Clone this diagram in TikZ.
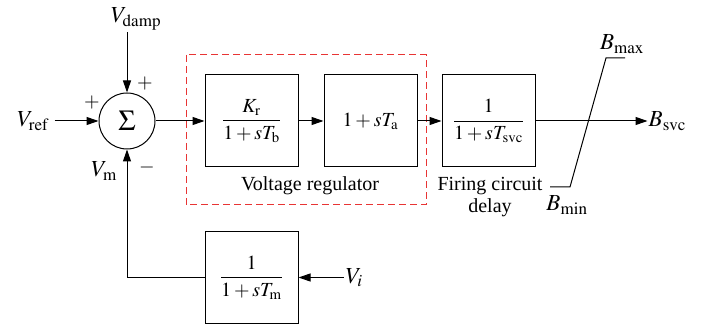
\documentclass[tikz,border=0pt]{standalone}
\usepackage{amsmath}
\usepackage{mathptmx}
\usepackage{fontspec}
\setmainfont{Liberation Serif}
\usetikzlibrary{arrows.meta,positioning}
\definecolor{dRed}{RGB}{232,52,52}

\begin{document}
\begin{tikzpicture}[x=1pt,y=-1pt,font=\fontsize{20}{22}\selectfont,
  b/.style={draw,line width=1pt,minimum width=93pt,minimum height=92pt,inner sep=0pt,align=center},
  s/.style={draw,circle,line width=1pt,minimum size=56pt,inner sep=0pt,font=\fontsize{29}{31}\selectfont},
  l/.style={font=\fontsize{23}{25}\selectfont,inner sep=2pt},
  a/.style={-{Triangle[length=12pt,width=8pt]},line width=1pt}]
  \useasboundingbox (0,0) rectangle (709,328);
  % summing point and inputs
  \node[s] (sum) at (127,121) {$\Sigma$};
  \node[l,left=44pt of sum,inner xsep=6pt] (vref) {$V_{\mathrm{ref}}$};
  \node[l,above=60pt of sum,xshift=9pt] (vdamp) {$V_{\mathrm{damp}}$};
  \node (p1) at (92,103) {$+$};
  \node (p2) at (145,84) {$+$};
  \node (m1) at (147,168) {$-$};
  \node[l] (vm) at (104,171) {$V_{\mathrm{m}}$};
  % forward path
  \node[b,right=49pt of sum] (kr) {$\dfrac{K_{\mathrm{r}}}{1+sT_{\mathrm{b}}}$};
  \node[b,right=25pt of kr] (ta) {$1+sT_{\mathrm{a}}$};
  \node[b,right=24pt of ta] (tsvc) {$\dfrac{1}{1+sT_{\mathrm{svc}}}$};
  \node[l,right=112pt of tsvc,inner sep=1pt] (bsvc) {$B_{\mathrm{svc}}$};
  \draw[dRed,line width=1pt,dash pattern=on 7pt off 4pt] (186,55) rectangle (426,205);
  \node (vr) at (310,186) {Voltage regulator};
  \node[align=center] (fcd) at (490,197) {Firing circuit\\delay};
  % limiter
  \coordinate (lo1) at (550,187);
  \coordinate (lo2) at (570,187);
  \coordinate (hi1) at (606,58);
  \coordinate (hi2) at (625,58);
  \draw[line width=1pt] (lo1)--(lo2)--(hi1)--(hi2);
  \node[l] (bmax) at (622,44) {$B_{\mathrm{max}}$};
  \node[l] (bmin) at (567,205) {$B_{\mathrm{min}}$};
  % feedback path
  \node[b] (tm) at (251.5,277.5) {$\dfrac{1}{1+sT_{\mathrm{m}}}$};
  \node[l,right=45pt of tm] (vi) {$V_i$};
  \foreach \u/\w in {vref/sum,sum/kr,kr/ta,ta/tsvc,tsvc/bsvc,vi/tm} \draw[a] (\u)--(\w);
  \draw[a] (sum.north |- vdamp.south)--(sum.north);
  \draw[a] (tm.west) -| (sum.south);
\end{tikzpicture}
\end{document}
